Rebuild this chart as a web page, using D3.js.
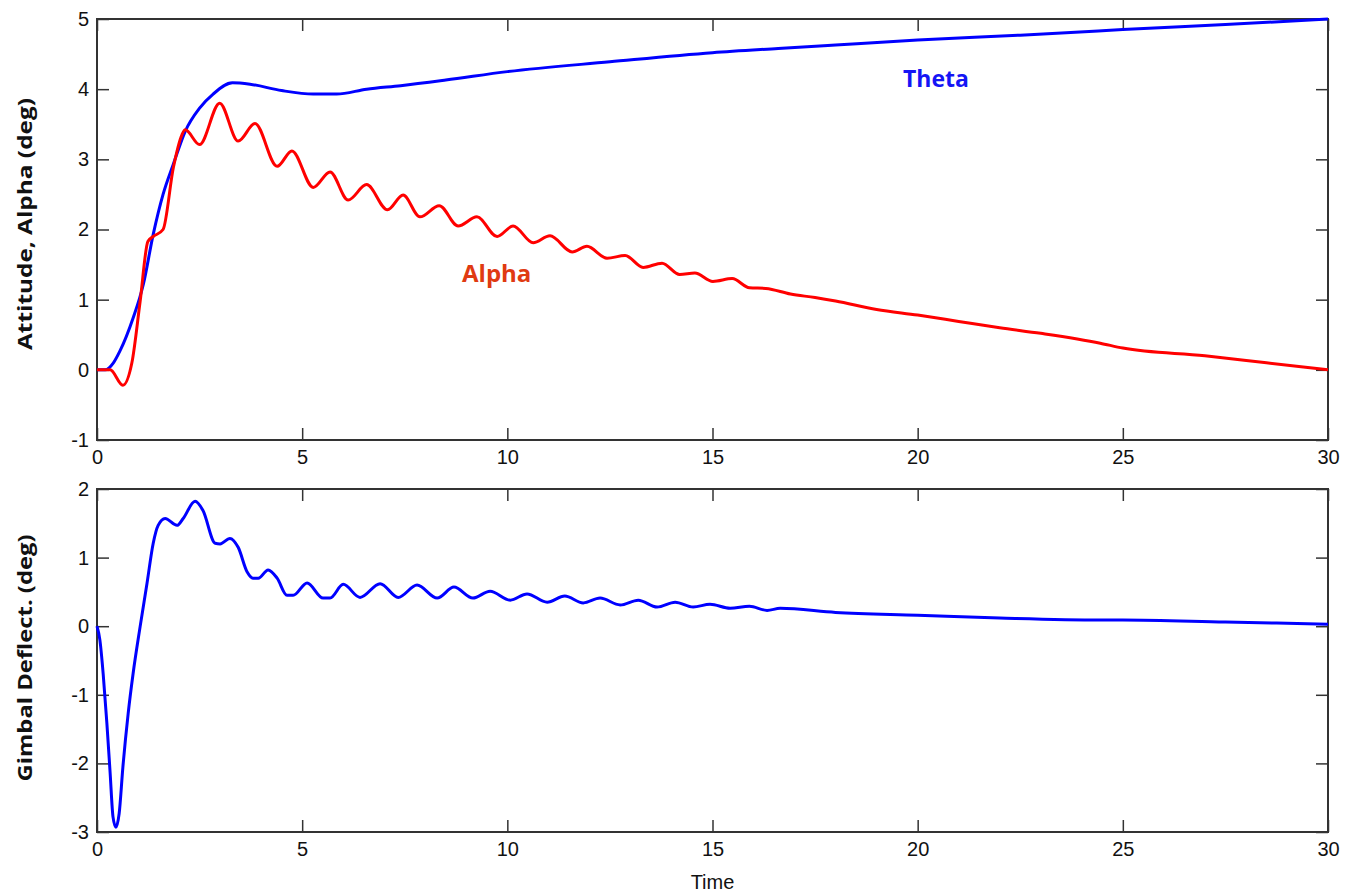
<!DOCTYPE html>
<html>
<head>
<meta charset="utf-8">
<script src="https://cdnjs.cloudflare.com/ajax/libs/d3/7.8.5/d3.min.js"></script>
<style>
  body { margin: 0; background: #fff; }
  .tick text { font-family: "Liberation Sans Narrow", "Liberation Sans", Arial, sans-serif; font-size: 20px; fill: #111; }
  .tick line { stroke: #333; stroke-width: 1.5; }
</style>
</head>
<body>
<div id="chart"></div>
<script>
// Theta (attitude), deg
var thetaT = [0, 0.2, 0.4, 0.56, 0.88, 1.13, 1.37, 1.61, 1.86, 2.15, 2.5, 2.83, 3.3, 3.73, 4.5, 5.27, 5.84, 6.57, 7.4, 8.5, 10, 12.5, 15, 16.6, 18, 20, 22.5, 24.4, 25, 27.5, 30];
var thetaV = [0, 0.0, 0.1, 0.27, 0.74, 1.22, 1.93, 2.5, 2.93, 3.4, 3.73, 3.93, 4.09, 4.07, 3.98, 3.93, 3.93, 4.0, 4.05, 4.13, 4.25, 4.39, 4.52, 4.58, 4.63, 4.7, 4.77, 4.83, 4.85, 4.92, 5.0];

// Alpha, deg
var alphaT = [0, 0.32, 0.63, 0.85, 1.05, 1.24, 1.37, 1.61, 1.86, 2.07, 2.15, 2.5, 2.99, 3.44, 3.85, 4.39, 4.75, 5.27, 5.68, 6.12, 6.57, 7.08, 7.46, 7.87, 8.34, 8.8, 9.26, 9.75, 10.14, 10.63, 11.04, 11.58, 11.94, 12.43, 12.87, 13.31, 13.77, 14.2, 14.57, 15.01, 15.48, 15.9, 16.3, 16.9, 17.5, 18, 19, 20, 21, 22, 23, 24.45, 25, 27, 28.5, 30];
var alphaV = [0, 0, -0.22, 0.1, 0.97, 1.83, 1.9, 2.0, 2.88, 3.35, 3.42, 3.21, 3.8, 3.26, 3.51, 2.9, 3.12, 2.6, 2.82, 2.42, 2.64, 2.28, 2.49, 2.18, 2.34, 2.05, 2.18, 1.9, 2.05, 1.81, 1.91, 1.68, 1.76, 1.59, 1.63, 1.46, 1.52, 1.36, 1.38, 1.26, 1.3, 1.17, 1.16, 1.08, 1.03, 0.98, 0.86, 0.78, 0.69, 0.6, 0.52, 0.38, 0.31, 0.2, 0.1, 0.0];

// Gimbal deflection, deg
var gimbalT = [0, 0.07, 0.15, 0.24, 0.32, 0.39, 0.46, 0.54, 0.63, 0.76, 0.88, 1.05, 1.22, 1.37, 1.49, 1.66, 1.95, 2.1, 2.39, 2.58, 2.88, 3.0, 3.24, 3.44, 3.66, 3.8, 3.93, 4.17, 4.39, 4.63, 4.78, 5.12, 5.51, 5.68, 6.0, 6.41, 6.9, 7.34, 7.8, 8.29, 8.7, 9.16, 9.58, 10.07, 10.48, 10.97, 11.4, 11.85, 12.26, 12.75, 13.19, 13.65, 14.09, 14.53, 14.94, 15.43, 15.9, 16.33, 16.65, 18, 20, 22, 24.45, 25, 27.5, 30];
var gimbalV = [0, -0.2, -0.69, -1.41, -2.14, -2.78, -2.93, -2.73, -2.06, -1.27, -0.69, -0.01, 0.63, 1.21, 1.47, 1.57, 1.47, 1.57, 1.82, 1.69, 1.21, 1.2, 1.28, 1.15, 0.79, 0.7, 0.7, 0.82, 0.7, 0.45, 0.45, 0.63, 0.41, 0.41, 0.61, 0.42, 0.62, 0.42, 0.6, 0.41, 0.57, 0.41, 0.51, 0.38, 0.47, 0.35, 0.44, 0.34, 0.41, 0.31, 0.38, 0.28, 0.35, 0.28, 0.32, 0.26, 0.29, 0.23, 0.26, 0.2, 0.16, 0.12, 0.09, 0.09, 0.06, 0.03];

var xTicks = [0, 5, 10, 15, 20, 25, 30];
var topTicks = [-1, 0, 1, 2, 3, 4, 5];
var botTicks = [-3, -2, -1, 0, 1, 2];

var W = 1354, H = 894;
var left = 97, right = 1328;

var svg = d3.select("#chart").append("svg")
  .attr("width", W).attr("height", H)
  .style("background", "#fff");

var x = d3.scaleLinear().domain([0, 30]).range([left, right]);
var yTop = d3.scaleLinear().domain([-1, 5]).range([440, 19]);
var yBot = d3.scaleLinear().domain([-3, 2]).range([832, 489]);

// plain hyphen minus, like the original
var fmt = function (d) { return String(d); };

function zip(t, v) {
  return t.map(function (d, i) { return { t: d, v: v[i] }; });
}

function panel(y, ticks) {
  var y0 = y.range()[0], y1 = y.range()[1];
  // frame
  svg.append("rect")
    .attr("x", left).attr("y", y1)
    .attr("width", right - left).attr("height", y0 - y1)
    .attr("fill", "none").attr("stroke", "#333").attr("stroke-width", 2);

  svg.append("g")
    .attr("transform", "translate(0," + y0 + ")")
    .call(d3.axisBottom(x).tickValues(xTicks).tickFormat(fmt).tickSizeInner(-12).tickSizeOuter(0).tickPadding(10))
    .call(function (g) { g.select(".domain").remove(); });
  svg.append("g")
    .attr("transform", "translate(0," + y1 + ")")
    .call(d3.axisTop(x).tickValues(xTicks).tickSizeInner(-12).tickSizeOuter(0).tickFormat(""))
    .call(function (g) { g.select(".domain").remove(); });
  svg.append("g")
    .attr("transform", "translate(" + left + ",0)")
    .call(d3.axisLeft(y).tickValues(ticks).tickFormat(fmt).tickSizeInner(-12).tickSizeOuter(0).tickPadding(8))
    .call(function (g) { g.select(".domain").remove(); });
  svg.append("g")
    .attr("transform", "translate(" + right + ",0)")
    .call(d3.axisRight(y).tickValues(ticks).tickSizeInner(-12).tickSizeOuter(0).tickFormat(""))
    .call(function (g) { g.select(".domain").remove(); });
}

panel(yTop, topTicks);
panel(yBot, botTicks);

function drawLine(y, data, color) {
  var line = d3.line()
    .x(function (d) { return x(d.t); })
    .y(function (d) { return y(d.v); })
    .curve(d3.curveMonotoneX);
  svg.append("path")
    .datum(data)
    .attr("d", line)
    .attr("fill", "none")
    .attr("stroke", color)
    .attr("stroke-width", 3)
    .attr("stroke-linejoin", "round");
}

drawLine(yTop, zip(thetaT, thetaV), "#0000ff");
drawLine(yTop, zip(alphaT, alphaV), "#ff0000");
drawLine(yBot, zip(gimbalT, gimbalV), "#0000ff");

// series labels
svg.append("text")
  .attr("x", 903).attr("y", 87)
  .text("Theta")
  .style("font-family", "'Open Sans', sans-serif")
  .style("font-weight", "bold")
  .style("font-size", "23px")
  .style("fill", "#1515f5");

svg.append("text")
  .attr("x", 462).attr("y", 282)
  .text("Alpha")
  .style("font-family", "'Open Sans', sans-serif")
  .style("font-weight", "bold")
  .style("font-size", "24px")
  .style("fill", "#e03a12");

// axis labels
function yLabel(cy, len, txt) {
  svg.append("text")
    .attr("transform", "translate(24," + cy + ") rotate(-90)")
    .attr("text-anchor", "middle")
    .attr("dominant-baseline", "central")
    .attr("textLength", len)
    .attr("lengthAdjust", "spacingAndGlyphs")
    .text(txt)
    .style("font-family", "'Open Sans', sans-serif")
    .style("font-weight", "bold")
    .style("font-size", "20px")
    .style("fill", "#111");
}
yLabel(224, 252, "Attitude, Alpha (deg)");
yLabel(658, 247, "Gimbal Deflect. (deg)");

svg.append("text")
  .attr("x", x(15)).attr("y", 889)
  .attr("text-anchor", "middle")
  .text("Time")
  .style("font-family", "'Liberation Sans Narrow', 'Liberation Sans', Arial, sans-serif")
  .style("font-size", "20px")
  .style("fill", "#111");
</script>
</body>
</html>
